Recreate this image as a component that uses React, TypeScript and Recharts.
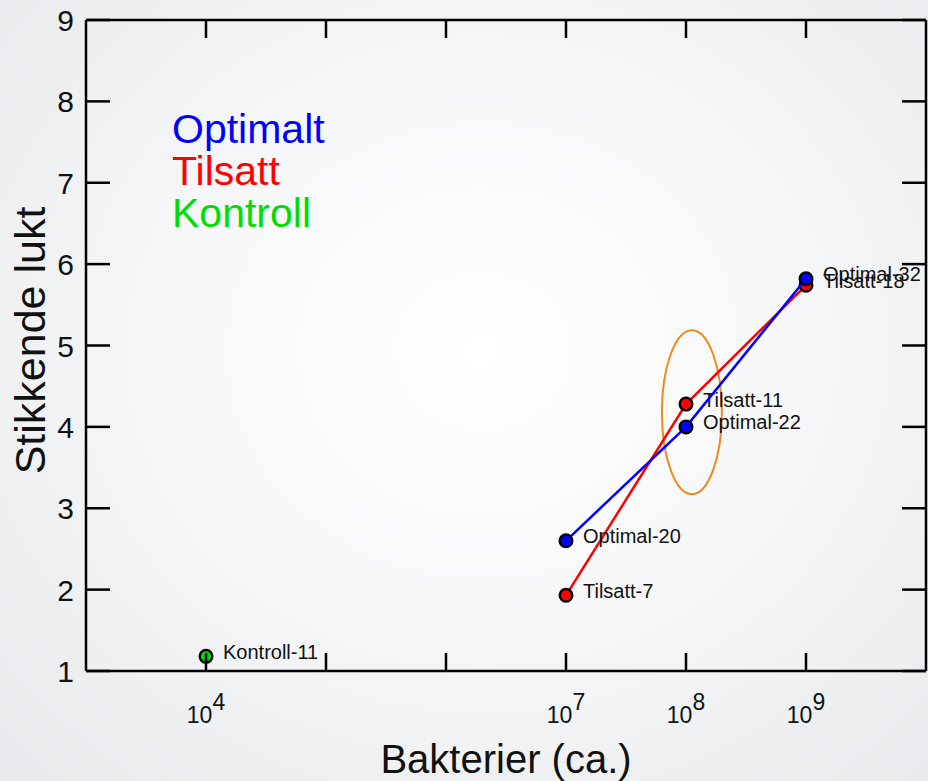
import React from 'react';
import { ScatterChart, Scatter, XAxis, YAxis, Legend } from 'recharts';

// values
const optimaltX = [1e7, 1e8, 1e9];
const optimaltY = [2.6, 4.0, 5.82];
const optimaltNames = ['Optimal-20', 'Optimal-22', 'Optimal-32'];

const tilsattX = [1e7, 1e8, 1e9];
const tilsattY = [1.93, 4.28, 5.74];
const tilsattNames = ['Tilsatt-7', 'Tilsatt-11', 'Tilsatt-18'];

const kontrollX = [1e4];
const kontrollY = [1.18];
const kontrollNames = ['Kontroll-11'];

// orange ring around the 10^8 pair
const highlightX = [1.12e8];
const highlightY = [4.18];

const xTicks = [1e4, 1e5, 1e6, 1e7, 1e8, 1e9];
const xLabelledExponents = [4, 7, 8, 9];
const yTicks = [1, 2, 3, 4, 5, 6, 7, 8, 9];

const seriesNames = ['Optimalt', 'Tilsatt', 'Kontroll'];
const seriesColors = ['#0000ff', '#ff0000', '#00dd00'];

const FONT = '"Liberation Sans", Arial, Helvetica, sans-serif';
const AXIS_STROKE = { stroke: '#000', strokeWidth: 2.5 };

const zip = (xs: number[], ys: number[], names?: string[]) =>
  xs.map((x, i) => ({ x, y: ys[i], name: names ? names[i] : '' }));

const optimaltData = zip(optimaltX, optimaltY, optimaltNames);
const tilsattData = zip(tilsattX, tilsattY, tilsattNames);
const kontrollData = zip(kontrollX, kontrollY, kontrollNames);
const highlightData = zip(highlightX, highlightY);

const makePoint = (color: string) => (props: any) => {
  const { cx, cy, payload } = props;
  if (cx == null || cy == null) return null;
  return (
    <g>
      <circle cx={cx} cy={cy} r={6.3} fill={color} stroke="#000" strokeWidth={2.4} />
      <text x={cx + 17} y={cy + 2.5} fontSize={20} fontFamily={FONT} fill="#111">
        {payload.name}
      </text>
    </g>
  );
};

const Ring = (props: any) => {
  const { cx, cy } = props;
  if (cx == null || cy == null) return null;
  return <ellipse cx={cx} cy={cy} rx={30} ry={82} fill="none" stroke="#ee8a1a" strokeWidth={2} />;
};

const BottomTick = (props: any) => {
  const { x, y, payload } = props;
  const exp = Math.round(Math.log10(payload.value));
  return (
    <g>
      <line x1={x} x2={x} y1={y} y2={y - 18} stroke="#000" strokeWidth={2.5} />
      {xLabelledExponents.includes(exp) && (
        <text x={x} y={y + 52} textAnchor="middle" fontSize={23} fontFamily={FONT} fill="#111">
          <tspan>10</tspan>
          <tspan dy={-13}>{exp}</tspan>
        </text>
      )}
    </g>
  );
};

const TopTick = (props: any) => {
  const { x, y } = props;
  return <line x1={x} x2={x} y1={y} y2={y + 18} stroke="#000" strokeWidth={2.5} />;
};

const LeftTick = (props: any) => {
  const { x, y, payload } = props;
  return (
    <g>
      <line x1={x} x2={x + 24} y1={y} y2={y} stroke="#000" strokeWidth={2.5} />
      <text x={x - 12} y={y + 11} textAnchor="end" fontSize={30} fontFamily={FONT} fill="#111">
        {payload.value}
      </text>
    </g>
  );
};

const RightTick = (props: any) => {
  const { x, y } = props;
  return <line x1={x} x2={x - 24} y1={y} y2={y} stroke="#000" strokeWidth={2.5} />;
};

const xTitle = (props: any) => {
  const vb = props.viewBox || { x: 86, y: 671, width: 840 };
  return (
    <text x={vb.x + vb.width / 2} y={vb.y + 102} textAnchor="middle" fontSize={40} fontFamily={FONT} fill="#111">
      Bakterier (ca.)
    </text>
  );
};

const yTitle = (props: any) => {
  const vb = props.viewBox || { x: 86, y: 20, height: 651 };
  const cx = 45;
  const cy = vb.y + vb.height / 2 - 5;
  return (
    <text
      x={cx}
      y={cy}
      textAnchor="middle"
      fontSize={43}
      fontFamily={FONT}
      fill="#111"
      transform={`rotate(-90, ${cx}, ${cy})`}
    >
      Stikkende lukt
    </text>
  );
};

const LegendText = () => (
  <div style={{ fontFamily: FONT }}>
    {seriesNames.map((name, i) => (
      <div key={name} style={{ color: seriesColors[i], fontSize: 41, lineHeight: '42px' }}>
        {name}
      </div>
    ))}
  </div>
);

export default function App() {
  return (
    <div
      style={{
        position: 'absolute',
        left: 0,
        top: 0,
        width: 928,
        height: 781,
        background: 'radial-gradient(ellipse at 52% 45%, #ffffff 0%, #f6f7f8 45%, #e7e9ec 100%)',
        fontFamily: FONT,
      }}
    >
      <ScatterChart width={928} height={781} margin={{ top: 19, right: 1, bottom: 109, left: 85 }}>
        <XAxis
          xAxisId="bottom"
          type="number"
          dataKey="x"
          scale="log"
          domain={[1e3, 1e10]}
          ticks={xTicks}
          interval={0}
          height={1}
          tickSize={0}
          tickMargin={0}
          tickLine={false}
          tick={<BottomTick />}
          axisLine={AXIS_STROKE}
          label={xTitle}
        />
        <XAxis
          xAxisId="top"
          orientation="top"
          type="number"
          dataKey="x"
          scale="log"
          domain={[1e3, 1e10]}
          ticks={xTicks}
          interval={0}
          height={1}
          tickSize={0}
          tickMargin={0}
          tickLine={false}
          tick={<TopTick />}
          axisLine={AXIS_STROKE}
        />
        <YAxis
          yAxisId="left"
          type="number"
          dataKey="y"
          domain={[1, 9]}
          ticks={yTicks}
          interval={0}
          width={1}
          tickSize={0}
          tickMargin={0}
          tickLine={false}
          tick={<LeftTick />}
          axisLine={AXIS_STROKE}
          label={yTitle}
        />
        <YAxis
          yAxisId="right"
          orientation="right"
          type="number"
          dataKey="y"
          domain={[1, 9]}
          ticks={yTicks}
          interval={0}
          width={1}
          tickSize={0}
          tickMargin={0}
          tickLine={false}
          tick={<RightTick />}
          axisLine={AXIS_STROKE}
        />
        <Legend
          layout="vertical"
          align="center"
          verticalAlign="middle"
          wrapperStyle={{ left: 172, top: 108, width: 'auto', height: 'auto' }}
          content={<LegendText />}
        />
        <Scatter
          xAxisId="top"
          yAxisId="right"
          data={highlightData}
          shape={<Ring />}
          isAnimationActive={false}
          legendType="none"
        />
        <Scatter
          name="Kontroll"
          xAxisId="bottom"
          yAxisId="left"
          data={kontrollData}
          shape={makePoint(seriesColors[2])}
          isAnimationActive={false}
        />
        <Scatter
          name="Tilsatt"
          xAxisId="bottom"
          yAxisId="left"
          data={tilsattData}
          line={{ stroke: seriesColors[1], strokeWidth: 2.5 }}
          lineType="joint"
          shape={makePoint(seriesColors[1])}
          isAnimationActive={false}
        />
        <Scatter
          name="Optimalt"
          xAxisId="bottom"
          yAxisId="left"
          data={optimaltData}
          line={{ stroke: seriesColors[0], strokeWidth: 2.5 }}
          lineType="joint"
          shape={makePoint(seriesColors[0])}
          isAnimationActive={false}
        />
      </ScatterChart>
    </div>
  );
}
